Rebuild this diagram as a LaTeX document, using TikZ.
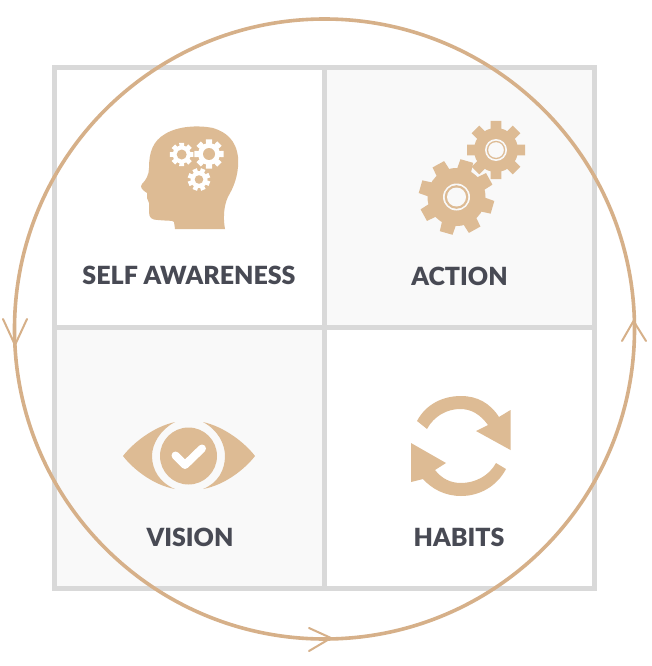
\documentclass[tikz,border=0pt]{standalone}
\usepackage{fontspec}
\setmainfont{Lato}
\newfontfamily\lblfont{Lato Black}
\usetikzlibrary{calc}
\definecolor{tan}{HTML}{DDBB94}
\definecolor{ringc}{HTML}{D6B089}
\definecolor{grid}{HTML}{D9D9D9}
\definecolor{cellg}{HTML}{F9F9F9}
\definecolor{ink}{HTML}{484A54}
\tikzset{
  lbl/.style={font=\lblfont\fontsize{25}{27}\selectfont,text=ink,inner sep=0pt,anchor=base},
  gridline/.style={draw=grid,line width=5pt},
  ringline/.style={draw=ringc,line width=3.6pt},
  chev/.style={draw=ringc,line width=2pt,line cap=round,line join=miter}
}
% \gearat{cx}{cy}{rOut}{rIn}{teeth}{rot}{halfwidth base deg}{halfwidth tip deg}{fill}
\newcommand{\gearat}[9]{%
  \fill[#9] (#1,#2) circle[radius=#4];
  \foreach \k in {1,...,#5}{%
    \pgfmathsetmacro{\ang}{#6+360/#5*\k}%
    \fill[#9] ($(#1,#2)+(\ang-#7:#4-1)$) -- ($(#1,#2)+(\ang-#8:#3)$) -- ($(#1,#2)+(\ang+#8:#3)$) -- ($(#1,#2)+(\ang+#7:#4-1)$) -- cycle;
  }%
}
\begin{document}
\begin{tikzpicture}[x=1pt,y=-1pt]
\useasboundingbox (0,0) rectangle (651,666);
\fill[white] (0,0) rectangle (651,666);
% cells
\fill[cellg] (324,67) rectangle (595,327);
\fill[cellg] (54,327) rectangle (324,589);
\draw[gridline] (54.5,67.5) rectangle (594.5,588.5);
\draw[gridline] (324,67.5) -- (324,588.5);
\draw[gridline] (54.5,327) -- (594.5,327);
% head
\fill[tan] (225,229) .. controls (222,212) and (226,200) .. (229,195)
  .. controls (236,183) and (239,170) .. (238,157)
  .. controls (236,140) and (226,132) .. (213,128)
  .. controls (198,125) and (178,126) .. (165,134)
  .. controls (153,141) and (149,152) .. (149,168)
  .. controls (149,175) and (146,180) .. (142,184)
  .. controls (140,187) and (141,189) .. (147,193)
  -- (147,198) -- (149,203) -- (149,212)
  .. controls (149,218) and (152,220) .. (158,220)
  .. controls (165,221) and (173,220) .. (174,222) -- (175,229) -- cycle;
\gearat{181.7}{154.5}{12}{9}{8}{0}{17}{12}{white}
\fill[tan] (181.7,154.5) circle[radius=5];
\gearat{209}{154}{15}{11}{8}{0}{17}{12}{white}
\fill[tan] (209,154) circle[radius=6];
\gearat{199}{179.5}{11.5}{8.5}{8}{22}{17}{12}{white}
\fill[tan] (199,179.5) circle[radius=4.3];
% gears
\gearat{456.5}{197}{38}{29}{8}{-29}{15}{10}{tan}
\fill[cellg] (456.5,197) circle[radius=13.5];
\fill[tan] (456.5,197) circle[radius=11.8];
\fill[cellg] (456.5,197) circle[radius=9.5];
\gearat{496}{150}{29.5}{22}{8}{0}{15}{10.5}{tan}
\fill[cellg] (496,150) circle[radius=11];
\fill[tan] (496,150) circle[radius=9.2];
\fill[cellg] (496,150) circle[radius=7.8];
% eye
\fill[tan] (123,456) .. controls (133,443) and (153,427) .. (175,422)
  .. controls (160,430) and (152,444) .. (152,456)
  .. controls (152,470) and (160,483) .. (175,489)
  .. controls (153,485) and (133,469) .. (123,456) -- cycle;
\fill[tan] (255,456) .. controls (245,443) and (225,427) .. (203,422)
  .. controls (218,430) and (225,444) .. (225,456)
  .. controls (225,470) and (218,483) .. (203,489)
  .. controls (225,485) and (245,469) .. (255,456) -- cycle;
\fill[tan] (188.5,456) circle[radius=28.5];
\draw[white,line width=8pt,line cap=round,line join=round] (175.5,455.5) -- (185,465) -- (202,448.5);
% habits
\fill[tan] (417,421) .. controls (426,404) and (443,396) .. (461,396)
  .. controls (477,396) and (490,403) .. (499,417) -- (510.5,410) -- (510.5,450) -- (476,431) -- (488,425)
  .. controls (480,414) and (471,409) .. (460,409)
  .. controls (447,409) and (434,416) .. (427,429) -- cycle;
\fill[tan] (506,469) .. controls (497,486) and (480,496) .. (461,496)
  .. controls (445,496) and (432,489) .. (423,479) -- (411,482) -- (411,443) -- (446,463) -- (435,470)
  .. controls (442,479) and (451,483) .. (461,483)
  .. controls (475,483) and (489,476) .. (496,463) -- cycle;
% labels
\node[lbl] (l1) at (189,284.5) {SELF AWARENESS};
\node[lbl] (l2) at (459.5,285.5) {ACTION};
\node[lbl] (l3) at (190,546) {VISION};
\node[lbl] (l4) at (459,546) {HABITS};
% ring
\draw[ringline] (324.5,329) circle[radius=310];
\draw[chev] (3,319) -- (15,345) -- (27,319);
\draw[chev] (622,341) -- (633.5,321) -- (646,341);
\draw[chev] (309,628) -- (331,638) -- (309,651);
\end{tikzpicture}
\end{document}
